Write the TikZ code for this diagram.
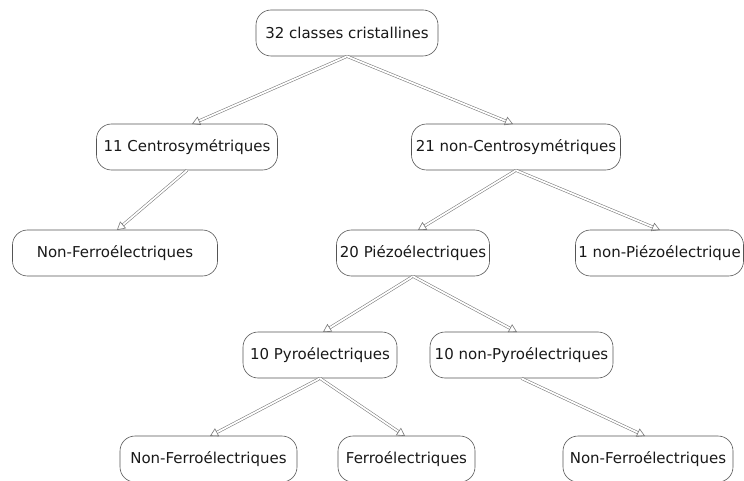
\documentclass[tikz,border=0pt]{standalone}
\usepackage{fontspec}
\setmainfont{DejaVu Sans}
\usetikzlibrary{arrows.meta}
\definecolor{edge}{HTML}{555555}
\tikzset{
  box/.style={draw=edge, line width=0.6pt, rounded corners=15pt, minimum height=46pt, inner sep=1pt, font=\fontsize{15}{17}\selectfont, text=black!90},
  dbl/.style={draw=edge!80, line width=0.55pt, double=white, double distance=1.8pt, -{Triangle[open, length=8pt, width=9pt, line width=0.6pt]}},
}
\begin{document}
\begin{tikzpicture}[x=1pt,y=-1pt]
\useasboundingbox (0,0) rectangle (744,481);
\node[box, minimum width=182pt] (root) at (347,33) {32 classes cristallines};
\node[box, minimum width=181pt] (centro) at (187,147) {11 Centrosymétriques};
\node[box, minimum width=209pt] (ncentro) at (516,147) {21 non-Centrosymétriques};
\node[box, minimum width=205pt] (nf1) at (115,253) {Non-Ferroélectriques};
\node[box, minimum width=153pt] (piezo) at (413,253) {20 Piézoélectriques};
\node[box, minimum width=168pt] (npiezo) at (659.5,253) {1 non-Piézoélectrique};
\node[box, minimum width=154pt] (pyro) at (320,355) {10 Pyroélectriques};
\node[box, minimum width=183pt] (npyro) at (521.5,355) {10 non-Pyroélectriques};
\node[box, minimum width=177pt] (nf2) at (208.5,459) {Non-Ferroélectriques};
\node[box, minimum width=137pt] (ferro) at (406.5,459) {Ferroélectriques};
\node[box, minimum width=170pt] (nf3) at (648,459) {Non-Ferroélectriques};
\draw[dbl] (root.south) -- (192,124);
\draw[dbl] (root.south) -- (513,124);
\draw[dbl] (centro.south) -- (117,230);
\draw[dbl] (ncentro.south) -- (418,230);
\draw[dbl] (ncentro.south) -- (660,230);
\draw[dbl] (piezo.south) -- (323,332);
\draw[dbl] (piezo.south) -- (517,332);
\draw[dbl] (pyro.south) -- (210,436);
\draw[dbl] (pyro.south) -- (405,436);
\draw[dbl] (npyro.south) -- (645,436);
\end{tikzpicture}
\end{document}
